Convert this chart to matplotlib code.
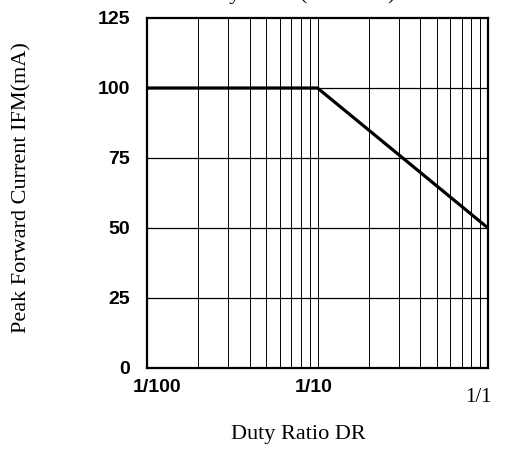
import matplotlib
matplotlib.use("Agg")
import matplotlib.pyplot as plt
from matplotlib.transforms import offset_copy, blended_transform_factory

# derating curve: peak forward current vs duty ratio
duty = [0.01, 0.1, 1.0]
ifm = [100, 100, 50]

x_ticks = [0.01, 0.1, 1.0]
x_labels = ["1/100", "1/10", "1/1"]
y_ticks = [0, 25, 50, 75, 100, 125]

W, H = 505, 449
fig = plt.figure(figsize=(W / 100, H / 100), dpi=100)
ax = fig.add_axes([147 / W, 1 - 368 / H, (488 - 147) / W, (368 - 18) / H])

ax.set_xscale("log")
ax.set_xlim(0.01, 1)
ax.set_ylim(0, 125)

# grid: every log minor line plus 25 mA steps
minor = [m * d for d in (0.01, 0.1) for m in range(2, 10)]
for xv in minor + [0.1]:
    ax.axvline(xv, color="black", lw=0.7, zorder=1)
for yv in y_ticks[1:-1]:
    ax.axhline(yv, color="black", lw=0.9, zorder=1)

ax.plot(duty, ifm, color="black", lw=2.3, zorder=3, solid_capstyle="butt")

for s in ax.spines.values():
    s.set_linewidth(1.6)

ax.set_yticks(y_ticks)
ax.set_yticklabels([str(v) for v in y_ticks], fontfamily="Liberation Sans",
                   fontweight="bold", fontsize=14)
ax.set_xticks([])
ax.xaxis.set_minor_locator(matplotlib.ticker.NullLocator())
ax.tick_params(axis="both", which="both", length=0)
ax.tick_params(axis="y", pad=12)

# x labels drawn by hand, the scan has them slightly shifted; 1/1 is in serif
trans = blended_transform_factory(ax.transData, ax.transAxes)
shifts = [(10, -11), (-4, -11), (-10, -20)]
for xv, lab, (dx, dy) in zip(x_ticks, x_labels, shifts):
    t = offset_copy(trans, fig=fig, x=dx, y=dy, units="dots")
    if lab == "1/1":
        ax.text(xv, 0, lab, transform=t, ha="center", va="top",
                fontfamily="Liberation Serif", fontsize=15)
    else:
        ax.text(xv, 0, lab, transform=t, ha="center", va="top",
                fontfamily="Liberation Sans", fontweight="bold", fontsize=14)

fig.text(22 / W, 1 - 188 / H, "Peak Forward Current IFM(mA)", rotation=90,
         ha="center", va="center", fontfamily="Liberation Serif", fontsize=16)
fig.text(298 / W, 1 - 434 / H, "Duty Ratio DR", ha="center", va="center",
         fontfamily="Liberation Serif", fontsize=16)

# title is cut off at the top of the scan, only descenders show
fig.text(196 / W, 1 + 1 / H, "Duty Ratio (Ta=25°C)", ha="left", va="baseline",
         fontfamily="Liberation Serif", fontsize=16)

fig.savefig("out.png", dpi=100)
